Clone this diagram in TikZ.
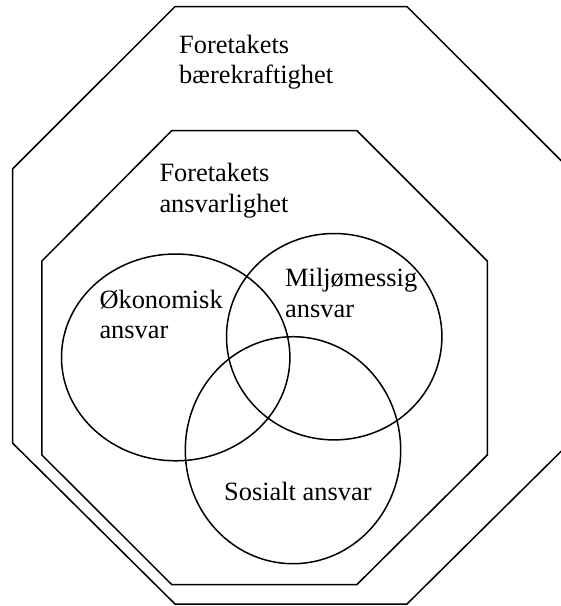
\documentclass[tikz,border=0pt]{standalone}
\usepackage{fontspec}
\setmainfont{Liberation Serif}

\begin{document}
\begin{tikzpicture}[x=1pt, y=-1pt,
    frame/.style={line width=1.5pt, line join=miter},
    ring/.style={line width=1.5pt},
    label/.style={anchor=base west, inner sep=0pt, align=left,
        font=\fontsize{26.4}{30.5}\selectfont}]
\useasboundingbox (0,0) rectangle (561,606);

% === Ytre åttekant: bærekraft ===
\draw[frame] (175,6.6) -- (407,6.6) -- (569.5,169) -- (569.5,443)
    -- (407,604) -- (175,604) -- (12.5,443) -- (12.5,169) -- cycle;
\node[label] (baerekraft) at (179,83.5) {Foretakets\\bærekraftighet};

% === Indre åttekant: ansvarlighet ===
\draw[frame] (171.7,130.7) -- (357,130.7) -- (487.3,261) -- (487.3,455)
    -- (357,584.5) -- (171.7,584.5) -- (41.9,455) -- (41.9,261) -- cycle;
\node[label] (ansvarlighet) at (159.3,212.2) {Foretakets\\ansvarlighet};

% === Tre sirkler ===
\coordinate (oko) at (175.7,357.4);
\coordinate (milj) at (334.2,336.7);
\coordinate (sos) at (293,450.2);
\draw[ring] (oko) ellipse [x radius=114.2, y radius=103.4];
\draw[ring] (milj) ellipse [x radius=107.7, y radius=103.2];
\draw[ring] (sos) ellipse [x radius=107.7, y radius=113.5];

% Etiketter
\node[label] (okonomisk) at (99.3,338.5) {Økonomisk\\ansvar};
\node[label] (miljo) at (285,317.2) {Miljømessig\\ansvar};
\node[label] (sosialt) at (224,500) {Sosialt ansvar};

\end{tikzpicture}
\end{document}
